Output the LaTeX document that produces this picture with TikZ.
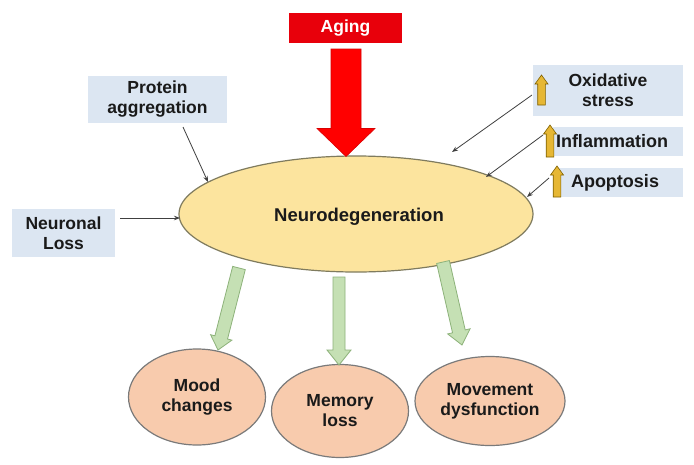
\documentclass[tikz,border=0pt]{standalone}
\usepackage{fontspec}
\setmainfont{Liberation Sans}
\usetikzlibrary{calc,arrows.meta,shapes.geometric}
\definecolor{boxblue}{HTML}{DCE6F2}
\definecolor{mainfill}{HTML}{FCE49E}
\definecolor{mainline}{HTML}{7F7B5E}
\definecolor{efffill}{HTML}{F8CBAD}
\definecolor{effline}{HTML}{7A7A7A}
\definecolor{greenfill}{HTML}{C5E0B4}
\definecolor{greenline}{HTML}{8DB27A}
\definecolor{goldfill}{HTML}{E6B734}
\definecolor{goldline}{HTML}{7F6000}
\definecolor{agingred}{HTML}{E8000B}
\definecolor{arrred}{HTML}{FF0000}
\definecolor{txt}{HTML}{1A1A1A}
\definecolor{thinline}{HTML}{404040}
\newcommand\blockarr[6]{%
  \coordinate (bah) at ($(#2)!#5!(#1)$);
  \draw[#6] ($(#1)!#3!90:(#2)$) -- ($(bah)!#3!-90:(#1)$) -- ($(bah)!#4!-90:(#1)$) -- (#2)
    -- ($(bah)!#4!90:(#1)$) -- ($(bah)!#3!90:(#1)$) -- ($(#1)!#3!-90:(#2)$) -- cycle;}
\begin{document}
\begin{tikzpicture}[x=1pt,y=-1pt,
  font=\fontsize{17.5}{20}\selectfont\bfseries, text=txt,
  bluebox/.style={rectangle, fill=boxblue, inner sep=0pt, align=center},
  agingbox/.style={rectangle, fill=agingred, text=white, inner sep=0pt, minimum width=113pt, minimum height=30pt},
  mainell/.style={ellipse, fill=mainfill, draw=mainline, line width=1.2pt, inner sep=0pt, minimum width=354pt, minimum height=116pt},
  effell/.style={ellipse, fill=efffill, draw=effline, line width=1.2pt, inner sep=0pt, align=center},
  thinarr/.style={draw=thinline, line width=0.8pt, -{Stealth[length=6pt,width=4.5pt]}},
  greenarr/.style={fill=greenfill, draw=greenline, line width=0.8pt, line join=miter},
  goldarr/.style={fill=goldfill, draw=goldline, line width=0.6pt},
  redarr/.style={fill=arrred, draw=arrred!85!black, line width=0.6pt},
  bigtext/.style={font=\fontsize{18}{20}\selectfont\bfseries, text=txt}]
\useasboundingbox[fill=white] (0,0) rectangle (694,464);

% boxes
\node[agingbox] (aging) at (345.5,28) {Aging};
\node[bluebox, minimum width=139pt, minimum height=47pt] (prot) at (157.5,99.5) {Protein\\aggregation};
\node[bluebox, minimum width=103pt, minimum height=48pt] (neur) at (63.5,233) {Neuronal\\Loss};
\node[bluebox, minimum width=150pt, minimum height=51pt] (oxi) at (608,90.5) {Oxidative\\stress};
\node[bluebox, minimum width=130pt, minimum height=29pt,
  label={[bigtext, xshift=-6pt]center:Inflammation}] (infl) at (618,141.5) {};
\node[bluebox, minimum width=126pt, minimum height=29pt,
  label={[bigtext, xshift=-5pt]center:Apoptosis}] (apop) at (620,182.5) {};

% main ellipse
\node[mainell, label={[font=\fontsize{18.5}{20}\selectfont\bfseries, text=txt, xshift=3pt, yshift=-3pt]center:Neurodegeneration}] (main) at (356,214) {};

% effect ellipses
\node[effell, minimum width=137pt, minimum height=96pt] (mood) at (197,397) {Mood\\changes};
\node[effell, minimum width=137pt, minimum height=93pt] (mem) at (340,411) {Memory\\loss};
\node[effell, minimum width=150pt, minimum height=89pt] (mov) at (490,401) {Movement\\dysfunction};

% coordinates
\coordinate (ra1) at (346,49);
\coordinate (ra2) at (346,156.5);
\coordinate (g1s) at (239,268);
\coordinate (g1e) at (218,350);
\coordinate (g2s) at (339,277);
\coordinate (g2e) at (339,365);
\coordinate (g3s) at (443,262);
\coordinate (g3e) at (462,345);
\coordinate (ox1) at (541.5,105);
\coordinate (ox2) at (541.5,75);
\coordinate (in1) at (550,157);
\coordinate (in2) at (550,125);
\coordinate (ap1) at (557,197);
\coordinate (ap2) at (557,166);
\coordinate (tp1) at (183,127);
\coordinate (tp2) at (208,182);
\coordinate (tn1) at (120,218);
\coordinate (tn2) at (180,218);
\coordinate (to1) at (532,95);
\coordinate (to2) at (452,152);
\coordinate (ti1) at (543,135);
\coordinate (ti2) at (486,177);
\coordinate (ta1) at (549,178);
\coordinate (ta2) at (527,197);

% red arrow
\blockarr{ra1}{ra2}{15pt}{29pt}{28pt}{redarr}

% green arrows
\blockarr{g1s}{g1e}{6.5pt}{11pt}{13pt}{greenarr}
\blockarr{g2s}{g2e}{6pt}{12pt}{15pt}{greenarr}
\blockarr{g3s}{g3e}{6.5pt}{11.5pt}{14pt}{greenarr}

% gold arrows
\blockarr{ox1}{ox2}{3.8pt}{6.5pt}{9pt}{goldarr}
\blockarr{in1}{in2}{3.8pt}{6.5pt}{9pt}{goldarr}
\blockarr{ap1}{ap2}{3.8pt}{6.5pt}{9pt}{goldarr}

% thin arrows
\draw[thinarr] (tp1) -- (tp2);
\draw[thinarr] (tn1) -- (tn2);
\draw[thinarr] (to1) -- (to2);
\draw[thinarr] (ti1) -- (ti2);
\draw[thinarr] (ta1) -- (ta2);
\end{tikzpicture}
\end{document}
